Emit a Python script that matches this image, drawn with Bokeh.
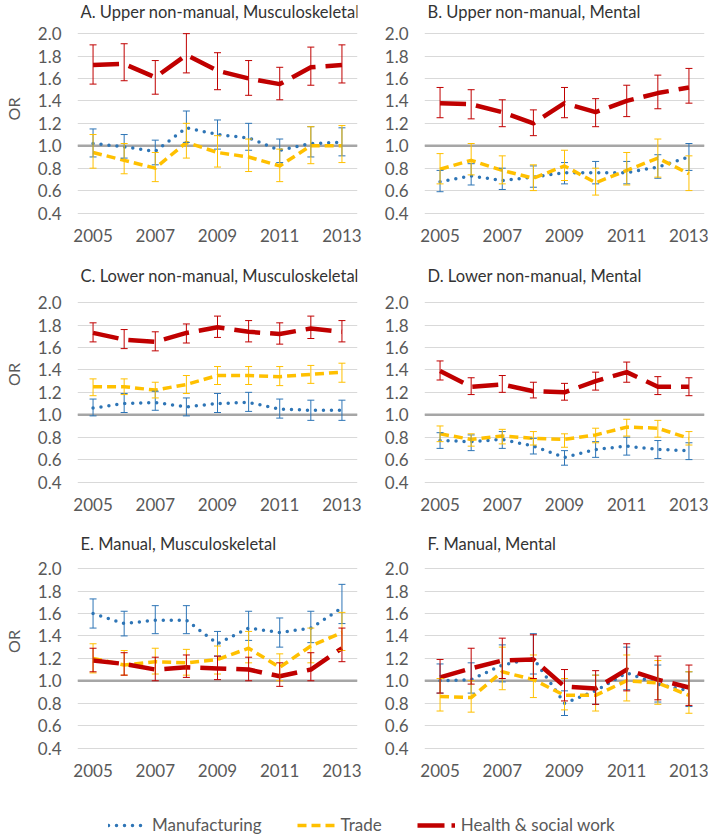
from bokeh.plotting import figure
from bokeh.models import (ColumnDataSource, Range1d, FixedTicker, PrintfTickFormatter,
                          Span, Whisker, TeeHead, Legend, LegendItem, Label)
from bokeh.layouts import column, row
from bokeh.embed import file_html
from bokeh.resources import INLINE

years = [2005, 2006, 2007, 2008, 2009, 2010, 2011, 2012, 2013]
x_ticks = [2005, 2007, 2009, 2011, 2013]
y_ticks = [0.4, 0.6, 0.8, 1.0, 1.2, 1.4, 1.6, 1.8, 2.0]
series_names = ["Manufacturing", "Trade", "Health & social work"]
titles = ["A. Upper non-manual, Musculoskeletal", "B. Upper non-manual, Mental",
          "C. Lower non-manual, Musculoskeletal", "D. Lower non-manual, Mental",
          "E. Manual, Musculoskeletal", "F. Manual, Mental"]

# Panel A
a_mfg = [1.02, 0.99, 0.95, 1.16, 1.10, 1.07, 0.96, 1.02, 1.03]
a_mfg_lo = [0.90, 0.89, 0.83, 1.03, 0.97, 0.96, 0.85, 0.90, 0.91]
a_mfg_hi = [1.15, 1.10, 1.05, 1.31, 1.23, 1.20, 1.06, 1.17, 1.16]
a_trade = [0.94, 0.87, 0.80, 1.03, 0.94, 0.90, 0.82, 1.00, 1.00]
a_trade_lo = [0.80, 0.75, 0.68, 0.89, 0.81, 0.77, 0.68, 0.84, 0.85]
a_trade_hi = [1.10, 1.02, 0.94, 1.20, 1.09, 1.06, 0.97, 1.17, 1.18]
a_health = [1.72, 1.73, 1.61, 1.81, 1.67, 1.60, 1.55, 1.70, 1.72]
a_health_lo = [1.55, 1.58, 1.46, 1.65, 1.50, 1.45, 1.41, 1.54, 1.56]
a_health_hi = [1.90, 1.91, 1.76, 2.00, 1.83, 1.76, 1.70, 1.88, 1.90]

# Panel B
b_mfg = [0.68, 0.73, 0.69, 0.72, 0.76, 0.76, 0.76, 0.81, 0.90]
b_mfg_lo = [0.59, 0.65, 0.61, 0.63, 0.66, 0.66, 0.66, 0.71, 0.78]
b_mfg_hi = [0.78, 0.84, 0.80, 0.82, 0.85, 0.86, 0.86, 0.92, 1.02]
b_trade = [0.79, 0.87, 0.78, 0.71, 0.82, 0.67, 0.78, 0.89, 0.75]
b_trade_lo = [0.66, 0.74, 0.66, 0.60, 0.69, 0.56, 0.65, 0.72, 0.60]
b_trade_hi = [0.93, 1.02, 0.91, 0.83, 0.96, 0.80, 0.94, 1.06, 0.91]
b_health = [1.38, 1.37, 1.30, 1.20, 1.38, 1.30, 1.40, 1.47, 1.52]
b_health_lo = [1.25, 1.24, 1.17, 1.09, 1.25, 1.17, 1.26, 1.33, 1.38]
b_health_hi = [1.52, 1.50, 1.41, 1.32, 1.52, 1.42, 1.54, 1.63, 1.69]

# Panel C
c_mfg = [1.06, 1.10, 1.11, 1.07, 1.10, 1.11, 1.05, 1.04, 1.04]
c_mfg_lo = [0.99, 1.02, 1.04, 0.99, 1.02, 1.03, 0.97, 0.95, 0.95]
c_mfg_hi = [1.14, 1.19, 1.21, 1.15, 1.19, 1.20, 1.14, 1.13, 1.13]
c_trade = [1.25, 1.25, 1.22, 1.27, 1.35, 1.35, 1.34, 1.36, 1.38]
c_trade_lo = [1.17, 1.18, 1.15, 1.19, 1.27, 1.27, 1.26, 1.28, 1.29]
c_trade_hi = [1.32, 1.32, 1.29, 1.35, 1.43, 1.43, 1.43, 1.44, 1.46]
c_health = [1.73, 1.67, 1.65, 1.73, 1.78, 1.74, 1.72, 1.77, 1.74]
c_health_lo = [1.65, 1.59, 1.57, 1.64, 1.69, 1.65, 1.63, 1.68, 1.65]
c_health_hi = [1.82, 1.76, 1.74, 1.81, 1.88, 1.84, 1.82, 1.88, 1.84]

# Panel D
d_mfg = [0.77, 0.76, 0.78, 0.72, 0.62, 0.69, 0.72, 0.69, 0.68]
d_mfg_lo = [0.70, 0.68, 0.70, 0.65, 0.55, 0.62, 0.64, 0.61, 0.60]
d_mfg_hi = [0.84, 0.82, 0.85, 0.79, 0.68, 0.76, 0.80, 0.77, 0.75]
d_trade = [0.83, 0.78, 0.81, 0.79, 0.78, 0.82, 0.89, 0.88, 0.79]
d_trade_lo = [0.76, 0.72, 0.74, 0.73, 0.71, 0.75, 0.81, 0.80, 0.73]
d_trade_hi = [0.90, 0.83, 0.87, 0.85, 0.83, 0.88, 0.96, 0.95, 0.85]
d_health = [1.39, 1.25, 1.27, 1.21, 1.20, 1.30, 1.38, 1.25, 1.25]
d_health_lo = [1.31, 1.18, 1.20, 1.15, 1.13, 1.22, 1.29, 1.18, 1.17]
d_health_hi = [1.48, 1.33, 1.35, 1.29, 1.28, 1.38, 1.47, 1.34, 1.33]

# Panel E
e_mfg = [1.60, 1.51, 1.54, 1.54, 1.33, 1.47, 1.43, 1.47, 1.65]
e_mfg_lo = [1.47, 1.40, 1.42, 1.42, 1.22, 1.36, 1.30, 1.34, 1.51]
e_mfg_hi = [1.73, 1.62, 1.67, 1.67, 1.44, 1.62, 1.56, 1.62, 1.86]
e_trade = [1.20, 1.14, 1.17, 1.16, 1.19, 1.29, 1.12, 1.31, 1.43]
e_trade_lo = [1.07, 1.05, 1.06, 1.05, 1.06, 1.16, 1.00, 1.16, 1.27]
e_trade_hi = [1.33, 1.27, 1.29, 1.28, 1.31, 1.44, 1.24, 1.47, 1.61]
e_health = [1.18, 1.15, 1.10, 1.12, 1.11, 1.10, 1.04, 1.10, 1.29]
e_health_lo = [1.08, 1.05, 1.00, 1.03, 1.01, 1.00, 0.95, 1.00, 1.17]
e_health_hi = [1.29, 1.25, 1.21, 1.23, 1.22, 1.21, 1.16, 1.25, 1.47]

# Panel F
f_mfg = [1.00, 1.01, 1.14, 1.20, 0.80, 0.91, 1.07, 0.97, 0.91]
f_mfg_lo = [0.89, 0.89, 0.99, 1.06, 0.69, 0.79, 0.92, 0.81, 0.77]
f_mfg_hi = [1.15, 1.16, 1.32, 1.42, 0.91, 1.05, 1.30, 1.14, 1.08]
f_trade = [0.86, 0.85, 1.08, 1.01, 0.87, 0.87, 1.00, 0.98, 0.87]
f_trade_lo = [0.73, 0.72, 0.92, 0.85, 0.74, 0.73, 0.82, 0.79, 0.71]
f_trade_hi = [1.02, 1.00, 1.30, 1.23, 1.02, 1.05, 1.23, 1.18, 1.08]
f_health = [1.03, 1.11, 1.18, 1.19, 0.95, 0.93, 1.10, 1.01, 0.94]
f_health_lo = [0.89, 0.97, 1.02, 1.02, 0.82, 0.79, 0.91, 0.83, 0.78]
f_health_hi = [1.19, 1.29, 1.38, 1.41, 1.10, 1.09, 1.33, 1.22, 1.14]

panels = [
    [(a_mfg, a_mfg_lo, a_mfg_hi), (a_trade, a_trade_lo, a_trade_hi), (a_health, a_health_lo, a_health_hi)],
    [(b_mfg, b_mfg_lo, b_mfg_hi), (b_trade, b_trade_lo, b_trade_hi), (b_health, b_health_lo, b_health_hi)],
    [(c_mfg, c_mfg_lo, c_mfg_hi), (c_trade, c_trade_lo, c_trade_hi), (c_health, c_health_lo, c_health_hi)],
    [(d_mfg, d_mfg_lo, d_mfg_hi), (d_trade, d_trade_lo, d_trade_hi), (d_health, d_health_lo, d_health_hi)],
    [(e_mfg, e_mfg_lo, e_mfg_hi), (e_trade, e_trade_lo, e_trade_hi), (e_health, e_health_lo, e_health_hi)],
    [(f_mfg, f_mfg_lo, f_mfg_hi), (f_trade, f_trade_lo, f_trade_hi), (f_health, f_health_lo, f_health_hi)],
]

FONT = "Lato"
TXT = "#595959"
COLORS = ["#2E75B6", "#FFC000", "#C00000"]
STYLES = [
    dict(line_width=3.5, line_dash="0 8", line_cap="round", line_join="round"),
    dict(line_width=3.5, line_dash="9 5", line_cap="butt", line_join="round"),
    dict(line_width=4.5, line_dash="26 10", line_cap="butt", line_join="round"),
]

PX = 112.1          # pixels per OR unit
Y_LOW = 0.36        # bottom of the plotting frame


def make_panel(idx, width, height, b_left, b_right, top_gap, title_gap):
    """top_gap: pixels from figure top to the 2.0 gridline;
    title_gap: pixels from figure top to the title's centre."""
    left_col = idx % 2 == 0
    frame_h = int(round(top_gap + (2.0 - Y_LOW) * PX))
    y_high = Y_LOW + frame_h / PX
    p = figure(width=width, height=height,
               x_range=Range1d(2004.5, 2013.5), y_range=Range1d(Y_LOW, y_high),
               output_backend="svg", toolbar_location=None,
               min_border_left=b_left, min_border_right=b_right,
               min_border_top=0, min_border_bottom=height - frame_h)
    p.outline_line_color = None
    p.background_fill_color = "white"
    p.border_fill_color = "white"

    p.xaxis.ticker = FixedTicker(ticks=x_ticks)
    p.xaxis.formatter = PrintfTickFormatter(format="%d")
    p.yaxis.ticker = FixedTicker(ticks=y_ticks)
    p.yaxis.formatter = PrintfTickFormatter(format="%.1f")
    for ax in (p.xaxis[0], p.yaxis[0]):
        ax.axis_line_color = None
        ax.major_tick_line_color = None
        ax.minor_tick_line_color = None
        ax.major_tick_out = 0
        ax.major_tick_in = 0
        ax.major_label_text_font = FONT
        ax.major_label_text_font_size = "17px"
        ax.major_label_text_color = TXT
    p.xaxis.major_label_standoff = 11
    p.yaxis.major_label_standoff = 16
    if left_col:
        p.yaxis.axis_label = "OR"
        p.yaxis.axis_label_text_font = FONT
        p.yaxis.axis_label_text_font_size = "16px"
        p.yaxis.axis_label_text_font_style = "normal"
        p.yaxis.axis_label_text_color = TXT
        p.yaxis.axis_label_standoff = 12

    p.xgrid.visible = False
    p.ygrid.grid_line_color = "#D9D9D9"
    p.ygrid.grid_line_width = 1

    p.add_layout(Span(location=1.0, dimension="width", line_color="#A6A6A6",
                      line_width=2.5, level="underlay"))

    for s, (vals, lo, hi) in enumerate(panels[idx]):
        src = ColumnDataSource(dict(year=years, val=vals, lo=lo, hi=hi))
        p.line("year", "val", source=src, line_color=COLORS[s], **STYLES[s])
        p.add_layout(Whisker(source=src, base="year", upper="hi", lower="lo",
                             line_color=COLORS[s], line_width=1, level="glyph",
                             upper_head=TeeHead(size=7, line_color=COLORS[s], line_width=1),
                             lower_head=TeeHead(size=7, line_color=COLORS[s], line_width=1)))

    p.add_layout(Label(x=3, y=frame_h - title_gap, x_units="screen", y_units="screen",
                       text=titles[idx], text_font=FONT, text_font_size="16.5px",
                       text_color="#333333", text_baseline="middle", text_align="left"))
    return p


LW, RW = 380, 328
rows = []
row_specs = [  # figure height, top gap to 2.0 line, title centre offset
    (262, 33.3, 11),
    (268, 39.7, 13),
    (267, 38.0, 13),
]
for r, (h, tg, tt) in enumerate(row_specs):
    pl = make_panel(2 * r, LW, h, 73, 23, tg, tt)
    pr = make_panel(2 * r + 1, RW, h, 44, 4, tg, tt)
    rows.append(row(pl, pr))

# legend strip
leg = figure(width=708, height=38, x_range=Range1d(0, 1), y_range=Range1d(0, 1),
             output_backend="svg", toolbar_location=None, min_border=0)
leg.axis.visible = False
leg.grid.visible = False
leg.outline_line_color = None
legend_styles = [
    dict(line_width=3.5, line_dash="0 8", line_cap="round"),
    dict(line_width=3.5, line_dash="9 5", line_cap="butt"),
    dict(line_width=4.5, line_dash="27 7 4 60", line_cap="butt"),
]
items = []
for s in range(3):
    rr = leg.line(x=[5, 6], y=[5, 5], line_color=COLORS[s], **legend_styles[s])
    items.append(LegendItem(label=series_names[s], renderers=[rr]))
legend = Legend(items=items, orientation="horizontal", location=(108, 0),
                glyph_width=38, glyph_height=20, label_standoff=6, spacing=35,
                padding=0, margin=0, border_line_color=None, background_fill_alpha=0,
                label_text_font=FONT, label_text_font_size="17px", label_text_color=TXT)
leg.add_layout(legend)

page = column(*rows, leg)
open("out.html", "w").write(file_html(page, INLINE))
